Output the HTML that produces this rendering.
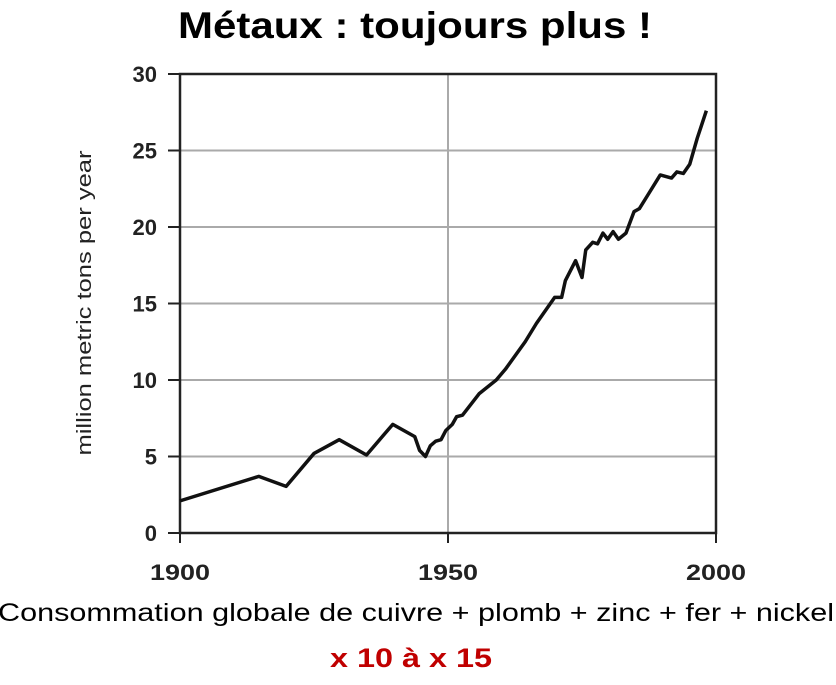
<!DOCTYPE html>
<html><head><meta charset="utf-8"><style>
body{margin:0;background:#fff;width:836px;height:680px;overflow:hidden;font-family:"Liberation Sans",sans-serif;}
</style></head><body>
<svg width="836" height="680">
<text x="415" y="38" text-anchor="middle" font-size="37" font-weight="bold" fill="#000" textLength="474" lengthAdjust="spacingAndGlyphs">Métaux : toujours plus !</text>
<g id="plot"></g>
<text transform="translate(91,303) rotate(-90)" text-anchor="middle" font-size="20" fill="#222" textLength="305" lengthAdjust="spacingAndGlyphs">million metric tons per year</text>
<text x="416" y="621" text-anchor="middle" font-size="25" fill="#000" textLength="836" lengthAdjust="spacingAndGlyphs">Consommation globale de cuivre + plomb + zinc + fer + nickel</text>
<text x="411" y="667" text-anchor="middle" font-size="27" font-weight="bold" fill="#c00000" textLength="162" lengthAdjust="spacingAndGlyphs">x 10 à x 15</text>
</svg>
<script>
const years=[1900,1914.7,1919.8,1925,1929.7,1934.8,1939.7,1943.8,1944.7,1945.8,1946.7,1947.7,1948.7,1949.6,1950.8,1951.6,1952.7,1955.8,1959,1960.7,1964.4,1966.5,1969.9,1971.2,1971.9,1973.8,1975,1975.7,1977,1977.9,1978.9,1979.8,1980.8,1981.8,1983.2,1984.7,1985.7,1987.3,1989.6,1991.7,1992.7,1993.9,1995.1,1996.5,1998.2];
const values=[2.1,3.7,3.05,5.2,6.1,5.1,7.1,6.3,5.4,5.0,5.7,6.0,6.1,6.7,7.1,7.6,7.7,9.1,10.0,10.7,12.5,13.7,15.4,15.4,16.5,17.8,16.7,18.5,19.0,18.9,19.6,19.2,19.7,19.2,19.6,21.0,21.2,22.1,23.4,23.2,23.6,23.5,24.1,25.8,27.6];
const yTicks=[0,5,10,15,20,25,30];
const xTicks=[1900,1950,2000];
const X0=180,X1=716,Y0=533,Y1=74;
const xs=v=>X0+(v-1900)/100*(X1-X0);
const ys=v=>Y0-v/30*(Y0-Y1);
const g=document.getElementById('plot');
const NS='http://www.w3.org/2000/svg';
function mk(t,a){const e=document.createElementNS(NS,t);for(const k in a)e.setAttribute(k,a[k]);g.appendChild(e);return e;}
yTicks.forEach(v=>{
  const y=ys(v);
  if(v>0&&v<30){const l=mk('line',{x1:X0,x2:X1,y1:y,y2:y,stroke:'#aaa','stroke-width':2});
  
  }
  const t=mk('line',{x1:168,x2:X0,y1:y,y2:y,stroke:'#222','stroke-width':2});
  
  
  const tx=mk('text',{x:157,y:y+8,'text-anchor':'end','font-size':22,'font-weight':'bold',fill:'#222'});
  tx.textContent=v;
  
  
});
xTicks.forEach(v=>{
  const x=xs(v);
  if(v>1900&&v<2000){const l=mk('line',{x1:x,x2:x,y1:Y1,y2:Y0,stroke:'#aaa','stroke-width':2});
  
  }
  const t=mk('line',{x1:x,x2:x,y1:Y0,y2:Y0+10,stroke:'#222','stroke-width':2});
  
  
  const tx=mk('text',{x:x,y:580,'text-anchor':'middle','font-size':22,'font-weight':'bold',fill:'#222',textLength:60,lengthAdjust:'spacingAndGlyphs'});
  tx.textContent=v;
  
  
});
const fr=mk('rect',{x:X0,y:Y1,width:X1-X0,height:Y0-Y1,fill:'none',stroke:'#222','stroke-width':2.5});


const line=mk('polyline',{points:years.map((yr,i)=>xs(yr)+','+ys(values[i])).join(' '),fill:'none',stroke:'#111','stroke-width':3.5,'stroke-linejoin':'round'});


</script>
</body></html>
